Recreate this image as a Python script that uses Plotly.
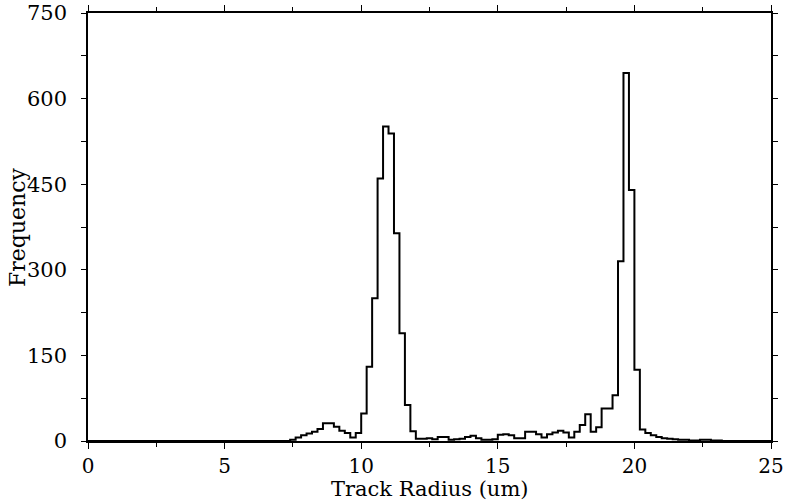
import plotly.graph_objects as go

# Histogram of track radius, bin width 0.2 um from 0 to 25 um
bin_width = 0.2
x_start = 0.0
counts = (
    [0] * 37 +
    [2, 6, 10, 13, 16, 21, 31, 31, 25, 18, 14, 6, 14,          # 7.4 - 10.0
     48, 130, 250, 460, 551, 539, 364, 189, 63, 17,            # 10.0 - 12.0
     4, 4, 5, 3, 7, 7, 2, 3, 4, 7,                             # 12.0 - 14.0
     9, 5, 2, 2, 3, 11, 12, 10, 5, 5,                          # 14.0 - 16.0
     16, 16, 12, 6, 12, 15, 18, 15, 6, 16,                     # 16.0 - 18.0
     28, 47, 16, 24, 57, 57, 80, 315, 645, 440,                # 18.0 - 20.0
     125, 20, 14, 10, 7, 5, 4, 3, 2, 2,                        # 20.0 - 22.0
     1, 1, 2, 2, 1, 1] +                                       # 22.0 - 23.2
    [0] * 9
)
edges = [x_start + i * bin_width for i in range(len(counts) + 1)]
y_step = counts + [counts[-1]]

x_ticks = [0, 5, 10, 15, 20, 25]
y_ticks = [0, 150, 300, 450, 600, 750]
x_title = "Track Radius (um)"
y_title = "Frequency"

font_family = "DejaVu Serif"

fig = go.Figure()
fig.add_trace(go.Scatter(
    x=edges, y=y_step, mode="lines", line_shape="hv",
    line=dict(color="black", width=2), showlegend=False, hoverinfo="skip",
))

fig.update_layout(
    width=786, height=500,
    margin=dict(l=88, r=15, t=13, b=59, autoexpand=False),
    paper_bgcolor="white", plot_bgcolor="white",
    font=dict(family=font_family, color="black", size=21),
    annotations=[
        dict(text=x_title, xref="paper", yref="paper", x=0.5, y=0,
             xanchor="center", yanchor="middle", yshift=-48, showarrow=False,
             font=dict(family=font_family, size=21, color="black")),
        dict(text=y_title, xref="paper", yref="paper", x=0, y=0.5,
             xanchor="center", yanchor="middle", xshift=-71, textangle=-90,
             showarrow=False,
             font=dict(family=font_family, size=22, color="black")),
    ],
)
fig.update_xaxes(
    range=[0, 25], tickvals=x_ticks, ticktext=[str(v) for v in x_ticks],
    ticks="outside", ticklen=6, tickwidth=1.2, tickcolor="black",
    minor=dict(dtick=2.5, ticks="outside", ticklen=4, tickwidth=1, tickcolor="black"),
    showline=True, linecolor="black", linewidth=2, mirror="ticks",
    showgrid=False, zeroline=False, automargin=False,
    ticklabelstandoff=0, ticklabeloverflow="allow",
    tickfont=dict(size=20, color="black"),
)
fig.update_yaxes(
    range=[0, 750], tickvals=y_ticks, ticktext=[str(v) for v in y_ticks],
    ticks="outside", ticklen=5, tickwidth=1.2, tickcolor="black",
    minor=dict(dtick=75, ticks="outside", ticklen=5, tickwidth=1, tickcolor="black"),
    showline=True, linecolor="black", linewidth=1.5, mirror="ticks",
    showgrid=False, zeroline=False, automargin=False,
    ticklabelstandoff=10, ticklabeloverflow="allow",
    tickfont=dict(size=21, color="black"),
)

# remove the default 8px page margin so the figure fills the window exactly
fig.write_html("out.html", config={"displayModeBar": False},
               post_script="document.body.style.margin='0';")
